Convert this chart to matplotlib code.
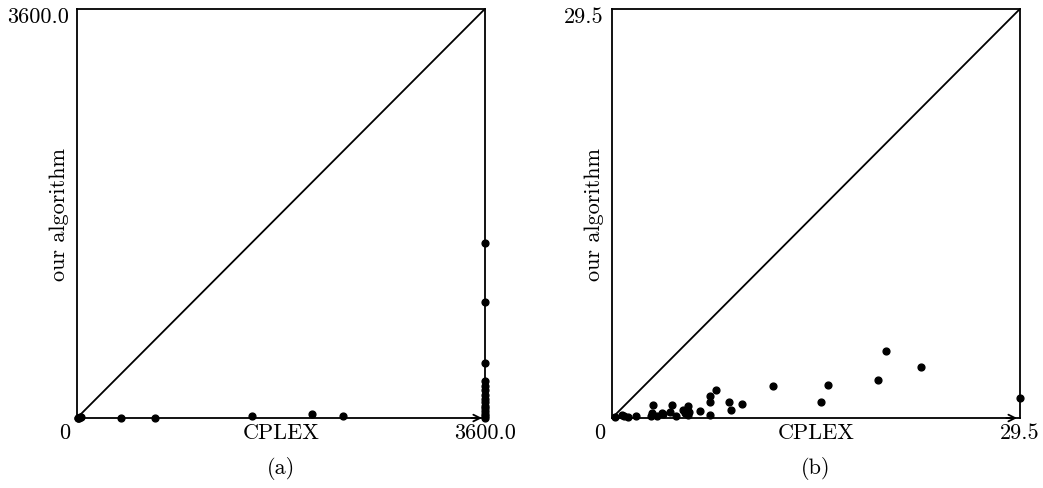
import matplotlib
matplotlib.use("Agg")
import matplotlib.pyplot as plt

plt.rcParams['font.family'] = 'serif'
plt.rcParams['font.serif'] = ['cmr10', 'DejaVu Serif']
plt.rcParams['axes.unicode_minus'] = False

# panel (a): time limit 3600
a_max = 3600.0
a_cplex = [5, 10, 18, 25, 35, 388, 688, 1544, 2073, 2346,
           3600, 3600, 3600, 3600, 3600, 3600, 3600, 3600, 3600,
           3600, 3600, 3600, 3600, 3600, 3600]
a_ours = [2, 4, 3, 6, 5, 3, 4, 15, 35, 15,
          1540, 1021, 484, 326, 282, 246, 205, 170, 140,
          110, 85, 60, 35, 15, 3]

# panel (b): instances solved by both
b_max = 29.5
b_cplex = [0.2, 0.7, 0.87, 1.16, 1.73, 2.82, 2.87, 2.99, 3.25, 3.6, 3.7,
           4.19, 4.32, 4.63, 5.1, 5.25, 5.4, 5.52, 5.6, 5.5, 6.36,
           7.09, 7.09, 7.09, 7.52, 8.48, 8.6, 9.38, 11.66,
           15.11, 15.64, 19.26, 19.79, 22.34, 29.5]
b_ours = [0.1, 0.25, 0.12, 0.08, 0.14, 0.14, 0.36, 0.94, 0.17, 0.36, 0.3,
          0.46, 0.94, 0.14, 0.55, 0.35, 0.6, 0.85, 0.4, 0.22, 0.53,
          1.57, 1.13, 0.22, 2.02, 1.13, 0.58, 1.01, 2.29,
          1.18, 2.39, 2.77, 4.80, 3.66, 1.45]

fig = plt.figure(figsize=(10.43, 4.89), dpi=100)

panels = [
    (0.0738, a_cplex, a_ours, a_max, '3600.0', '(a)'),
    (0.5868, b_cplex, b_ours, b_max, '29.5', '(b)'),
]

for left, xs, ys, vmax, lab, cap in panels:
    ax = fig.add_axes([left, 0.1431, 0.391, 0.8364])
    ax.set_xlim(0, vmax)
    ax.set_ylim(0, vmax)
    ax.plot([0, vmax], [0, vmax], color='black', lw=1.3)
    ax.scatter(xs, ys, s=24, color='black', zorder=3, clip_on=False)
    for sp in ax.spines.values():
        sp.set_linewidth(1.3)
    ax.set_xticks([])
    ax.set_yticks([])
    # arrow head on the x axis
    ax.annotate('', xy=(1.0, 0), xytext=(0.96, 0), xycoords='axes fraction',
                arrowprops=dict(arrowstyle='->', lw=1.3, color='black',
                                mutation_scale=12))
    fs = 16
    ax.text(-0.03, -0.012, '0', transform=ax.transAxes, ha='center', va='top', fontsize=fs)
    ax.text(1.0, -0.012, lab, transform=ax.transAxes, ha='center', va='top', fontsize=fs)
    ax.text(-0.02, 1.007, lab, transform=ax.transAxes, ha='right', va='top', fontsize=fs)
    ax.text(0.5, -0.012, 'CPLEX', transform=ax.transAxes, ha='center', va='top', fontsize=fs)
    ax.text(-0.02, 0.5, 'our algorithm', transform=ax.transAxes, ha='right', va='center',
            rotation=90, fontsize=fs)
    ax.text(0.5, -0.093, cap, transform=ax.transAxes, ha='center', va='top', fontsize=fs)

fig.savefig('out.png', dpi=100)
